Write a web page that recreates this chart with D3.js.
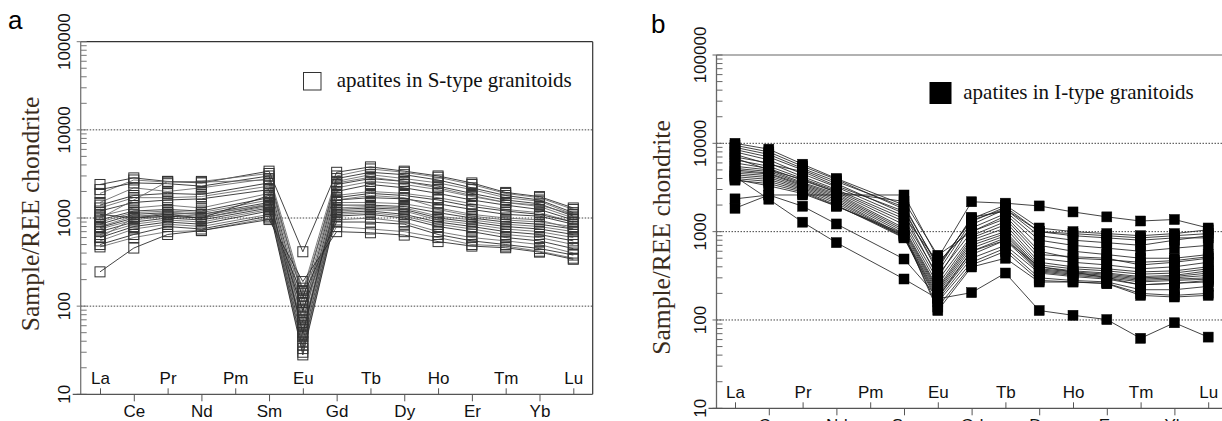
<!DOCTYPE html>
<html>
<head>
<meta charset="utf-8">
<script src="https://cdn.jsdelivr.net/npm/d3@7"></script>
<style>
  html, body { margin: 0; padding: 0; background: #fff; }
  svg { display: block; }
</style>
</head>
<body>
<svg id="chart" width="1222" height="421"></svg>
<script>
// ---------------- DATA ----------------
const elements = ["La","Ce","Pr","Nd","Pm","Sm","Eu","Gd","Tb","Dy","Ho","Er","Tm","Yb","Lu"];
const insideLabels = ["La","Pr","Pm","Eu","Tb","Ho","Tm","Lu"];
const outsideLabels = ["Ce","Nd","Sm","Gd","Dy","Er","Yb"];
const measured = ["La","Ce","Pr","Nd","Sm","Eu","Gd","Tb","Dy","Ho","Er","Tm","Yb","Lu"];
const yTickLabels = [10, 100, 1000, 10000, 100000];
const gridValues = [100, 1000, 10000];
const yTitle = "Sample/REE chondrite";
const legendA = "apatites in S-type granitoids";
const legendB = "apatites in I-type granitoids";

// apatites in S-type granitoids (chondrite-normalised), order = measured
const sType = [
  [2400, 2850, 2600, 2500, 3400, 414, 3300, 3800, 3400, 3000, 2500, 1950, 1750, 1300],
  [1900, 2700, 2550, 2600, 3200, 150, 3000, 3600, 3300, 2900, 2400, 1900, 1700, 1250],
  [2100, 2500, 2450, 2300, 3000, 120, 2800, 3300, 3100, 2700, 2200, 1800, 1600, 1150],
  [1500, 2200, 2000, 2200, 2800, 100, 2600, 3100, 2800, 2500, 2100, 1700, 1550, 1100],
  [1400, 1800, 1900, 1850, 2500, 85, 2400, 2800, 2600, 2300, 1900, 1600, 1450, 1050],
  [1300, 1700, 1700, 1750, 2300, 75, 2200, 2600, 2400, 2100, 1750, 1500, 1350, 1000],
  [1200, 1500, 1600, 1650, 2100, 65, 2000, 2400, 2200, 1900, 1600, 1400, 1250, 950],
  [1050, 1300, 1400, 1300, 1900, 55, 1800, 2000, 1900, 1700, 1450, 1250, 1150, 900],
  [950, 1200, 1250, 1200, 1700, 48, 1600, 1700, 1650, 1450, 1250, 1100, 1050, 850],
  [900, 1150, 1200, 1150, 1600, 45, 1500, 1500, 1450, 1250, 1050, 950, 900, 800],
  [850, 1100, 1150, 1100, 1500, 40, 1400, 1400, 1350, 1150, 1000, 900, 850, 750],
  [800, 1050, 1100, 1050, 1450, 36, 1300, 1350, 1300, 1050, 950, 850, 800, 700],
  [780, 1000, 1100, 1000, 1400, 33, 1250, 1300, 1250, 1000, 900, 800, 750, 650],
  [750, 950, 1050, 1000, 1350, 30, 1200, 1250, 1200, 950, 850, 750, 700, 600],
  [700, 900, 1000, 950, 1300, 28, 1150, 1200, 1100, 900, 800, 700, 650, 550],
  [650, 850, 950, 900, 1250, 60, 1100, 1150, 1050, 850, 750, 650, 600, 500],
  [600, 800, 900, 850, 1200, 90, 1050, 1100, 1000, 800, 700, 600, 550, 450],
  [550, 750, 850, 800, 1100, 110, 950, 1000, 900, 700, 600, 550, 500, 400],
  [500, 650, 800, 750, 1050, 130, 900, 900, 850, 650, 550, 500, 450, 380],
  [470, 600, 700, 720, 1000, 160, 800, 750, 700, 600, 500, 480, 420, 350],
  [245, 456, 650, 720, 960, 190, 700, 680, 640, 540, 480, 460, 410, 340],
  [1000, 1600, 2600, 2550, 2700, 140, 2500, 2900, 2600, 2200, 1800, 1500, 1400, 1100],
  [1100, 1000, 1050, 1000, 1800, 50, 1700, 1900, 1800, 1600, 1350, 1200, 1100, 900],
  [600, 1000, 1150, 1100, 1400, 70, 1600, 1800, 1700, 1300, 1100, 1000, 950, 750]
];

// apatites in I-type granitoids
const iType = [
  [2350, 2600, 2600, 2600, 2600, 500, 2180, 2100, 1955, 1672, 1470, 1320, 1372, 1100],
  [4200, 2330, 1280, 751, 291, 174, 204, 340, 128, 113, 101, 62, 93, 64],
  [10000, 8590, 5800, 4000, 2000, 400, 1400, 2000, 1100, 1000, 950, 900, 950, 1050],
  [9500, 8000, 5500, 3900, 1800, 350, 1300, 1900, 1000, 950, 900, 850, 900, 950],
  [8500, 7000, 5000, 3500, 1600, 300, 1200, 1800, 900, 800, 750, 700, 800, 900],
  [8000, 6500, 4500, 3200, 1500, 450, 1100, 1600, 700, 600, 550, 500, 500, 550],
  [7000, 6000, 4200, 3000, 1400, 320, 1000, 1500, 600, 500, 480, 450, 470, 520],
  [6500, 5500, 4000, 2900, 1300, 280, 900, 1300, 500, 450, 420, 380, 400, 450],
  [6000, 5200, 3800, 2800, 1200, 250, 850, 1200, 450, 400, 380, 350, 360, 400],
  [5500, 5000, 3600, 2700, 1100, 230, 800, 1100, 420, 380, 360, 330, 340, 380],
  [5200, 4800, 3500, 2600, 1050, 220, 750, 1000, 400, 360, 340, 310, 320, 360],
  [5000, 4600, 3400, 2500, 1000, 210, 700, 950, 380, 350, 330, 300, 310, 340],
  [4800, 4500, 3300, 2400, 950, 200, 650, 900, 370, 340, 320, 290, 300, 320],
  [4600, 4300, 3200, 2300, 900, 190, 600, 850, 360, 330, 310, 280, 290, 300],
  [4400, 4100, 3100, 2200, 880, 180, 550, 800, 350, 320, 300, 270, 280, 290],
  [4200, 3900, 3000, 2100, 860, 170, 500, 700, 340, 310, 290, 250, 260, 270],
  [4000, 3700, 2900, 2000, 849, 160, 450, 650, 300, 280, 270, 220, 220, 240],
  [3830, 3500, 2800, 1950, 900, 140, 420, 600, 280, 270, 260, 200, 190, 200],
  [3900, 3300, 2700, 1940, 950, 128, 398, 500, 269, 269, 258, 190, 182, 190],
  [1840, 2600, 1940, 1222, 490, 180, 600, 800, 400, 350, 300, 250, 260, 280],
  [7500, 5800, 4800, 3300, 1700, 380, 1455, 1700, 800, 700, 650, 600, 650, 700],
  [9000, 7500, 5200, 3700, 1900, 420, 1350, 1800, 1000, 900, 850, 800, 850, 850],
  [6800, 5000, 3900, 2800, 2200, 540, 1000, 1400, 550, 520, 500, 420, 450, 500]
];

// ---------------- DRAWING ----------------
const svg = d3.select("#chart");
const SANS = "'Liberation Sans', Arial, sans-serif";
const SERIF = "'Liberation Serif', 'Times New Roman', serif";

function drawPanel(cfg, data) {
  const g = svg.append("g");
  const x = d3.scalePoint().domain(elements).range([cfg.xFirst, cfg.xLast]);
  const y = d3.scaleLog().domain([10, 100000]).range([cfg.bottom, cfg.top]);

  // gridlines
  g.selectAll("line.grid").data(gridValues).join("line")
    .attr("x1", cfg.left).attr("x2", cfg.gridRight)
    .attr("y1", d => y(d)).attr("y2", d => y(d))
    .attr("stroke", "#444").attr("stroke-width", 1)
    .attr("stroke-dasharray", "1.5,1.5");

  // top border
  g.append("line").attr("x1", cfg.left).attr("x2", cfg.right)
    .attr("y1", cfg.top).attr("y2", cfg.top)
    .attr("stroke", cfg.topColor).attr("stroke-width", cfg.topWidth);
  if (cfg.rightBorder) {
    g.append("line").attr("x1", cfg.right).attr("x2", cfg.right)
      .attr("y1", cfg.top).attr("y2", cfg.bottom)
      .attr("stroke", "#333").attr("stroke-width", 1.2);
  }

  // left axis line
  g.append("line").attr("x1", cfg.left).attr("x2", cfg.left)
    .attr("y1", cfg.top).attr("y2", cfg.bottom)
    .attr("stroke", cfg.leftColor).attr("stroke-width", 1.3);

  // minor & major log ticks
  const allTicks = y.ticks();
  g.selectAll("line.ytick").data(allTicks).join("line")
    .attr("x1", d => yTickLabels.includes(d) ? cfg.left - 4 : cfg.left)
    .attr("x2", d => yTickLabels.includes(d) ? cfg.left + 6 : cfg.left + 6)
    .attr("y1", d => y(d)).attr("y2", d => y(d))
    .attr("stroke", cfg.leftColor).attr("stroke-width", 1);

  // y tick labels (rotated)
  g.selectAll("text.ylab").data(yTickLabels).join("text")
    .attr("transform", d => `translate(${cfg.left - 10.5},${y(d)}) rotate(-90)`)
    .attr("text-anchor", "middle")
    .attr("font-family", SANS).attr("font-size", 17).attr("fill", "#111")
    .text(d => d);

  // y title
  g.append("text")
    .attr("transform", `translate(${cfg.titleX},${cfg.titleY}) rotate(-90)`)
    .attr("text-anchor", "middle")
    .attr("font-family", SERIF).attr("font-size", 25.5).attr("fill", "#3a2c1c")
    .text(yTitle);

  // bottom axis line
  g.append("line").attr("x1", cfg.left - 8).attr("x2", cfg.right)
    .attr("y1", cfg.bottom).attr("y2", cfg.bottom)
    .attr("stroke", "#555").attr("stroke-width", 1.3);

  // inside labels (axisTop at the bottom line)
  const axTop = d3.axisTop(x).tickValues(insideLabels).tickSize(6).tickPadding(4);
  const gt = g.append("g").attr("transform", `translate(0,${cfg.bottom})`).call(axTop);
  const axBot = d3.axisBottom(x).tickValues(outsideLabels).tickSize(7).tickPadding(3.3);
  const gb = g.append("g").attr("transform", `translate(0,${cfg.bottom})`).call(axBot);
  [gt, gb].forEach(a => {
    a.select(".domain").remove();
    a.selectAll(".tick line").attr("stroke", "#555").attr("stroke-width", 1);
    a.selectAll(".tick text").attr("font-family", SANS).attr("font-size", 17).attr("fill", "#111");
  });

  // series lines
  const line = d3.line().x((d, i) => x(measured[i])).y(d => y(d));
  g.selectAll("path.series").data(data).join("path")
    .attr("d", line)
    .attr("fill", "none")
    .attr("stroke", (d, i) => cfg.filled ? "#222" : (i % 2 ? "#666" : "#222"))
    .attr("stroke-width", 0.85);

  // markers
  const pts = [];
  data.forEach(s => s.forEach((v, i) => pts.push({ e: measured[i], v })));
  const ms = 10;
  g.selectAll("rect.mk").data(pts).join("rect")
    .attr("x", d => x(d.e) - ms / 2).attr("y", d => y(d.v) - ms / 2)
    .attr("width", ms).attr("height", ms)
    .attr("fill", cfg.filled ? "#000" : "none")
    .attr("stroke", cfg.filled ? "#000" : "#333")
    .attr("stroke-width", cfg.filled ? 0.5 : 1);

  // legend
  g.append("rect")
    .attr("x", cfg.legX).attr("y", cfg.legY)
    .attr("width", cfg.legS).attr("height", cfg.legS)
    .attr("fill", cfg.filled ? "#000" : "#fff")
    .attr("stroke", cfg.filled ? "#000" : "#333").attr("stroke-width", 1);
  g.append("text")
    .attr("x", cfg.legTextX).attr("y", cfg.legTextY)
    .attr("font-family", SERIF).attr("font-size", 21).attr("fill", "#111")
    .text(cfg.legend);

  // panel letter
  g.append("text")
    .attr("x", cfg.letterX).attr("y", cfg.letterY)
    .attr("font-family", SANS).attr("font-size", 26).attr("fill", "#000")
    .text(cfg.letter);
}

drawPanel({
  left: 80.7, right: 592.7, gridRight: 592.7, top: 41.7, bottom: 394.3,
  xFirst: 100, xLast: 573.3, rightBorder: true,
  topColor: "#333", topWidth: 1.2, leftColor: "#777",
  titleX: 38.5, titleY: 214,
  filled: false, legend: legendA,
  legX: 303.5, legY: 72.5, legS: 17.5, legTextX: 336.7, legTextY: 87,
  letter: "a", letterX: 8, letterY: 29
}, sType);

drawPanel({
  left: 716.5, right: 1222, gridRight: 1222, top: 55, bottom: 408.3,
  xFirst: 735, xLast: 1208.2, rightBorder: false,
  topColor: "#999", topWidth: 1.5, leftColor: "#666",
  titleX: 670, titleY: 237.5,
  filled: true, legend: legendB,
  legX: 930, legY: 82.5, legS: 21, legTextX: 963.3, legTextY: 99,
  letter: "b", letterX: 651, letterY: 33
}, iType);
</script>
</body>
</html>
